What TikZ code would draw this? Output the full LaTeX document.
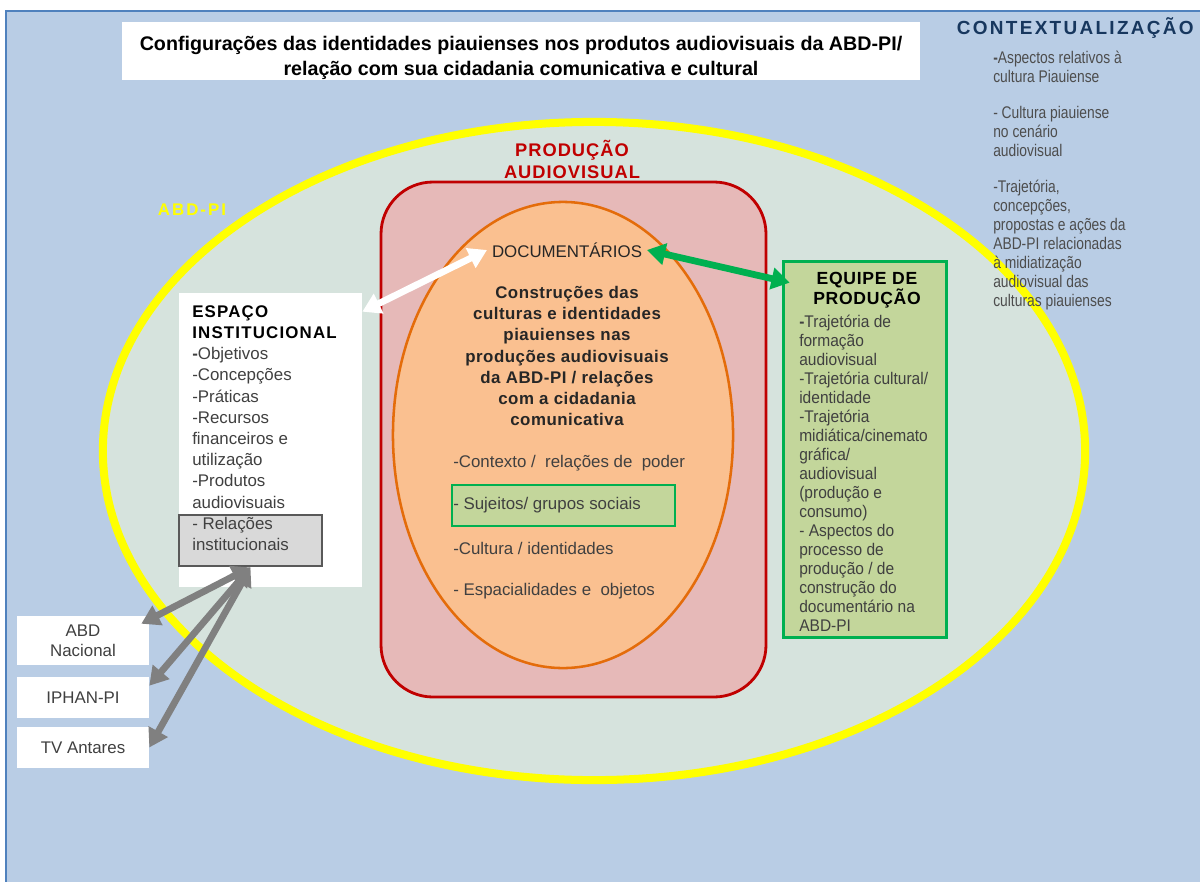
\documentclass[tikz,border=0pt]{standalone}
\usepackage{fontspec}
\setmainfont{Liberation Sans}
\newfontfamily\narrowfont[FakeStretch=0.82]{Liberation Sans}
\newfontfamily\teamfont[FakeStretch=0.92]{Liberation Sans}
\newfontfamily\spacedfont[LetterSpace=12]{Liberation Sans}
\usetikzlibrary{arrows.meta}

\definecolor{panelblue}{RGB}{185,205,229}
\definecolor{panelline}{RGB}{79,129,189}
\definecolor{abdfill}{RGB}{214,227,221}
\definecolor{abdyellow}{RGB}{255,255,0}
\definecolor{prodred}{RGB}{192,0,0}
\definecolor{prodfill}{RGB}{230,185,184}
\definecolor{docfill}{RGB}{250,192,144}
\definecolor{docline}{RGB}{228,108,10}
\definecolor{teamfill}{RGB}{195,214,155}
\definecolor{teamline}{RGB}{0,176,80}
\definecolor{relfill}{RGB}{217,217,217}
\definecolor{relline}{RGB}{89,89,89}
\definecolor{linkgray}{RGB}{128,128,128}
\definecolor{ctxnavy}{RGB}{23,55,94}
\definecolor{ctxgray}{RGB}{77,77,77}
\definecolor{txtgray}{RGB}{64,64,64}

\tikzset{
  whitebox/.style={fill=white, inner sep=0pt},
  teambox/.style={fill=teamfill, inner sep=0pt},
  listtext/.style={align=left, inner sep=0pt, text=txtgray},
  biglink/.style={line width=4.8pt,
    arrows={Triangle[width=15pt,length=13pt]-Triangle[width=15pt,length=13pt]}},
}

\begin{document}
\begin{tikzpicture}[x=0.025cm, y=-0.025cm]
        \useasboundingbox (0,0) rectangle (1200,881);

        % background panel
        \fill[white] (0,0) rectangle (1200,881);
        \draw[panelline, line width=2pt, fill=panelblue] (6,11) rectangle (1230,900);

        % title
        \node[whitebox, minimum width=19.95cm, minimum height=1.45cm] (titlebox) at (521,51) {};
        \node[align=center, font=\fontsize{14}{17.7}\selectfont\bfseries] (title) at (521,58)
            {Configurações das identidades piauienses nos produtos audiovisuais da ABD-PI/\\
             relação com sua cidadania comunicativa e cultural};

        % ABD-PI
        \draw[abdyellow, line width=5.7pt, fill=abdfill]
            (594,451) ellipse [x radius=12.275cm, y radius=8.225cm];
        \node[text=abdyellow, font=\spacedfont\fontsize{12}{14}\selectfont\bfseries] (abdpi) at (192,210) {ABD-PI};

        % contextualization
        \node[anchor=west, text=ctxnavy, font=\spacedfont\fontsize{13.5}{15}\selectfont\bfseries]
            (ctx) at (952,28) {CONTEXTUALIZAÇÃO};
        \node[anchor=north west, listtext, text=ctxgray, font=\narrowfont\fontsize{12}{13.5}\selectfont]
            (ctxlist) at (993,51)
            {\textbf{-}Aspectos relativos à\\cultura Piauiense\\[12pt]
             - Cultura piauiense\\no cenário\\audiovisual\\[12pt]
             -Trajetória,\\concepções,\\propostas e ações da\\ABD-PI relacionadas\\à midiatização\\
             audiovisual das\\culturas piauienses};

        % producao audiovisual
        \node[text=prodred, align=center,
              font=\fontsize{13}{15.6}\selectfont\bfseries\addfontfeatures{LetterSpace=5.5}]
            (prod) at (572,159) {PRODUÇÃO\\AUDIOVISUAL};
        \draw[prodred, line width=2pt, fill=prodfill, rounded corners=1.3cm] (381,182) rectangle (766,697);

        % documentarios
        \draw[docline, line width=1.8pt, fill=docfill]
            (563,435) ellipse [x radius=4.25cm, y radius=5.825cm];
        \node[font=\fontsize{12}{14}\selectfont, text=black!85] (doc) at (567,250) {DOCUMENTÁRIOS};
        \node[align=center, font=\fontsize{12}{15}\selectfont\bfseries\addfontfeatures{LetterSpace=3},
              text=black!85] (theme) at (567,356)
            {Construções das\\culturas e identidades\\piauienses nas\\produções audiovisuais\\
             da ABD-PI / relações\\com a cidadania\\comunicativa};

        \node[teambox, draw=teamline, line width=2pt, minimum width=5.575cm, minimum height=1.025cm]
            (subjbox) at (563.5,505.5) {};
        \foreach \y/\t [count=\i] in {463/{-Contexto /~ relações de~ poder},
                                      505/{- Sujeitos/ grupos sociais},
                                      548/{-Cultura / identidades},
                                      591/{- Espacialidades e~ objetos}} {
          \node[anchor=west, listtext, font=\fontsize{12}{14}\selectfont] (item\i) at (453,\y) {\t};
        }

        % espaco institucional
        \node[whitebox, minimum width=4.575cm, minimum height=7.35cm] (space) at (270.5,440) {};
        \node[fill=relfill, draw=relline, line width=2pt, minimum width=3.575cm, minimum height=1.275cm]
            (rel) at (250.5,540.5) {};
        \node[anchor=north west, listtext, font=\fontsize{12}{15.1}\selectfont] (spacelist) at (192,305)
            {\textcolor{black}{\bfseries\addfontfeatures{LetterSpace=7}ESPAÇO}\\
             \textcolor{black}{\bfseries\addfontfeatures{LetterSpace=7}INSTITUCIONAL}\\
             \textbf{-}Objetivos\\-Concepções\\-Práticas\\-Recursos\\financeiros e\\utilização\\
             -Produtos\\audiovisuais\\- Relações\\institucionais};

        % equipe de producao
        \node[teambox, minimum width=4.05cm, minimum height=9.375cm] (team) at (865,449.5) {};
        \node[align=center, font=\fontsize{12.5}{14.2}\selectfont\bfseries\addfontfeatures{LetterSpace=4}]
            (teamhead) at (867,290) {EQUIPE DE\\PRODUÇÃO};
        \node[anchor=north west, listtext, font=\teamfont\fontsize{12}{13.5}\selectfont] (teamlist) at (799,315)
            {\textbf{-}Trajetória de\\formação\\audiovisual\\-Trajetória cultural/\\identidade\\-Trajetória\\
             midiática/cinemato\\gráfica/\\audiovisual\\(produção e\\consumo)\\- Aspectos do\\processo de\\
             produção / de\\construção do\\documentário na\\ABD-PI};
        \draw[teamline, line width=2.5pt] (team.north west) rectangle (team.south east);

        % partner institutions
        \foreach \n/\y/\h/\t in {abd/640.5/1.225/{ABD\\Nacional}, iphan/697.5/1.025/{IPHAN-PI}, tv/747.5/1.025/{TV Antares}} {
          \node[whitebox, minimum width=3.3cm, minimum height=\h cm, align=center, text=txtgray,
                font=\fontsize{12}{14.2}\selectfont] (\n) at (83,\y) {\t};
        }

        % links
        \draw[biglink, white] ([yshift=-0.475cm]space.north east) -- (doc.west);
        \draw[biglink, teamline] (doc.east) -- ([shift={(0.15cm,-0.525cm)}]team.north west);
        \draw[biglink, linkgray] (rel.south) -- ([shift={(-0.2cm,-0.2cm)}]abd.north east);
        \draw[biglink, linkgray] (rel.south) -- ([yshift=-0.225cm]iphan.north east);
        \draw[biglink, linkgray] (rel.south) -- (tv.east);
\end{tikzpicture}
\end{document}
